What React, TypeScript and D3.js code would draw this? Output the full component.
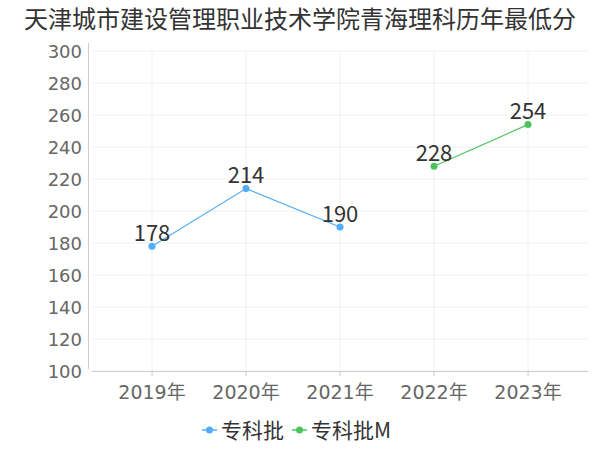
import React from "react";
import * as d3 from "d3";

const title = "天津城市建设管理职业技术学院青海理科历年最低分";
const years = ["2019年", "2020年", "2021年", "2022年", "2023年"];
const yTicks = [100, 120, 140, 160, 180, 200, 220, 240, 260, 280, 300];
const seriesA = { name: "专科批", color: "#4facf7", values: [178, 214, 190, null, null] };
const seriesB = { name: "专科批M", color: "#4cc45a", values: [null, null, null, 228, 254] };
const allSeries = [seriesA, seriesB];

const font = "'Noto Sans CJK SC', 'Noto Sans', sans-serif";
const tickFont = "'DejaVu Sans', 'Noto Sans CJK SC', sans-serif";

export default function App() {
  const width = 600;
  const height = 450;
  const plotLeft = 92;
  const plotRight = 588;
  const x = d3.scalePoint<string>().domain(years).range([152, 528]);
  const y = d3.scaleLinear().domain([100, 300]).range([371, 51]);

  const line = d3
    .line<[string, number | null]>()
    .defined((d) => d[1] != null)
    .x((d) => x(d[0]) as number)
    .y((d) => y(d[1] as number));

  return (
    <svg
      width={width}
      height={height}
      style={{ position: "absolute", left: 0, top: 0, fontFamily: font }}
    >
      <rect width={width} height={height} fill="#fff" />
      <text x={300} y={28} textAnchor="middle" fontSize={24} fill="#333">
        {title}
      </text>
      {/* grid */}
      {yTicks.map((t) => (
        <line key={"g" + t} x1={plotLeft} x2={plotRight} y1={y(t)} y2={y(t)} stroke="#f0f0f0" />
      ))}
      {years.map((yr) => (
        <line key={"v" + yr} x1={x(yr)} x2={x(yr)} y1={y(300)} y2={y(100)} stroke="#f0f0f0" />
      ))}
      {/* axes */}
      <line x1={88.5} x2={88.5} y1={43} y2={369} stroke="#ccc" />
      <line x1={plotLeft} x2={plotRight} y1={371.5} y2={371.5} stroke="#ccc" />
      {yTicks.map((t) => (
        <text
          key={"t" + t}
          x={82}
          y={y(t) + 6.5}
          textAnchor="end"
          fontSize={18}
          fill="#666"
          fontFamily={tickFont}
        >
          {t}
        </text>
      ))}
      {years.map((yr) => (
        <g key={"x" + yr}>
          <line x1={x(yr)} x2={x(yr)} y1={371} y2={376} stroke="#ccc" />
          <text
            x={x(yr)}
            y={399}
            textAnchor="middle"
            fontSize={19}
            fill="#666"
            fontFamily={tickFont}
          >
            {yr}
          </text>
        </g>
      ))}
      {/* series */}
      {allSeries.map((s) => {
        const pts = years.map((yr, i) => [yr, s.values[i]] as [string, number | null]);
        return (
          <g key={s.name}>
            <path d={line(pts) || ""} fill="none" stroke={s.color} strokeWidth={1.2} />
            {pts
              .filter((p) => p[1] != null)
              .map((p) => (
                <g key={p[0]}>
                  <circle cx={x(p[0])} cy={y(p[1] as number)} r={3.5} fill={s.color} />
                  <text
                    x={x(p[0])}
                    y={y(p[1] as number) - 5.5}
                    textAnchor="middle"
                    fontSize={22}
                    fill="#333"
                  >
                    {p[1]}
                  </text>
                </g>
              ))}
          </g>
        );
      })}
      {/* legend */}
      {allSeries.map((s, i) => {
        const lx = i === 0 ? 202 : 292;
        return (
          <g key={"l" + s.name}>
            <line x1={lx} x2={lx + 15} y1={430} y2={430} stroke={s.color} strokeWidth={1.5} />
            <circle cx={lx + 7.5} cy={430} r={3.5} fill={s.color} />
            <text x={lx + 19} y={437.5} fontSize={21} fill="#333">
              {s.name}
            </text>
          </g>
        );
      })}
    </svg>
  );
}
